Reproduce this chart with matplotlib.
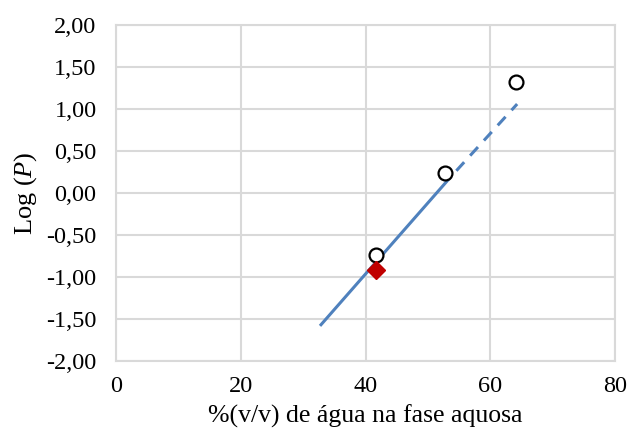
import matplotlib
matplotlib.use("Agg")
import matplotlib.pyplot as plt
from matplotlib.ticker import FuncFormatter

plt.rcParams["font.family"] = "Liberation Serif"
plt.rcParams["mathtext.fontset"] = "custom"
plt.rcParams["mathtext.rm"] = "Liberation Serif"
plt.rcParams["mathtext.it"] = "Liberation Serif:italic"

# experimental log P values
agua = [41.7, 52.8, 64.1]
log_p = [-0.74, 0.24, 1.32]

# predicted point
agua_pred = [41.7]
log_p_pred = [-0.92]

# regression line: fitted range and extrapolation
reta_x = [32.7, 53.5]
reta_y = [-1.58, 0.18]
extrap_x = [53.5, 64.3]
extrap_y = [0.18, 1.06]

xticks = [0, 20, 40, 60, 80]
yticks = [-2.0, -1.5, -1.0, -0.5, 0.0, 0.5, 1.0, 1.5, 2.0]

fig = plt.figure(figsize=(6.27, 4.32), dpi=100)
ax = fig.add_axes([0.185, 0.164, 0.796, 0.778])

grid_color = "#D9D9D9"
azul = "#4F81BD"

ax.plot(reta_x, reta_y, color=azul, lw=2.2, solid_capstyle="butt", zorder=2)
ax.plot(extrap_x, extrap_y, color=azul, lw=2.2, ls=(3.5, (3.8, 2.9)), zorder=2)
ax.plot(agua, log_p, "o", ms=10, mfc="white", mec="black", mew=1.6, zorder=3)
ax.plot(agua_pred, log_p_pred, "D", ms=9, mfc="#C00000", mec="#C00000", zorder=3)

ax.set_xlim(0, 80)
ax.set_ylim(-2, 2)
ax.set_xticks(xticks)
ax.set_yticks(yticks)
ax.yaxis.set_major_formatter(FuncFormatter(lambda v, p: f"{v:.2f}".replace(".", ",")))
ax.tick_params(length=0, labelsize=17.5)
ax.tick_params(axis="y", pad=14)
ax.tick_params(axis="x", pad=11)
ax.grid(True, color=grid_color, lw=1.5, zorder=0)
ax.set_axisbelow(True)
for s in ax.spines.values():
    s.set_color(grid_color)
    s.set_linewidth(1.5)

ax.set_xlabel("%(v/v) de água na fase aquosa", fontsize=18.5, labelpad=5)
ax.set_ylabel("Log ($P$)", fontsize=19, labelpad=5)

fig.savefig("out.png", dpi=100)
